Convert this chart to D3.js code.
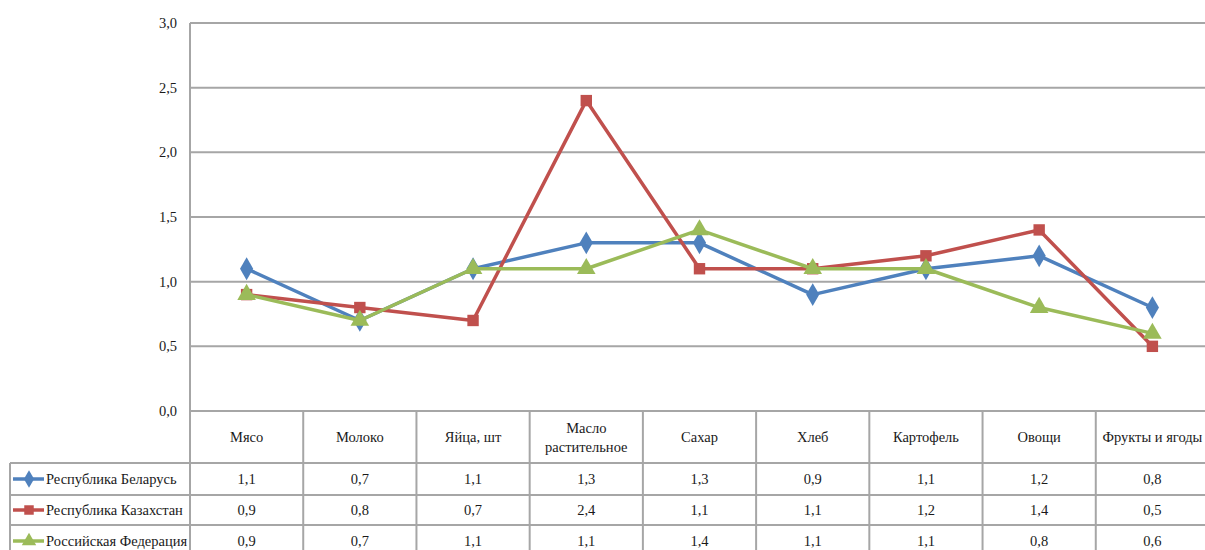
<!DOCTYPE html>
<html>
<head>
<meta charset="utf-8">
<script src="https://cdn.jsdelivr.net/npm/d3@7"></script>
<style>
body { margin: 0; background: #fff; overflow: hidden; }
</style>
</head>
<body>
<div id="chart"></div>
<script>
// categories and series
var categories = ["Мясо", "Молоко", "Яйца, шт", "Масло растительное", "Сахар", "Хлеб", "Картофель", "Овощи", "Фрукты и ягоды"];
var seriesNames = ["Республика Беларусь", "Республика Казахстан", "Российская Федерация"];
var belarus = [1.1, 0.7, 1.1, 1.3, 1.3, 0.9, 1.1, 1.2, 0.8];
var kazakhstan = [0.9, 0.8, 0.7, 2.4, 1.1, 1.1, 1.2, 1.4, 0.5];
var russia = [0.9, 0.7, 1.1, 1.1, 1.4, 1.1, 1.1, 0.8, 0.6];
var yTicks = [0, 0.5, 1.0, 1.5, 2.0, 2.5, 3.0];

var colors = ["#4f81bd", "#c0504d", "#9bbb59"];
var symbols = [d3.symbolDiamond, d3.symbolSquare, d3.symbolTriangle];
var allSeries = [belarus, kazakhstan, russia];

var width = 1205, height = 550;
var plotLeft = 190, plotRight = 1209, plotTop = 23, plotBottom = 411;
var rowTops = [411, 463, 495, 525, 557];
var tableLeft = 10;
var gridColor = "#a6a6a6";
var font = "'Liberation Serif'";
var fontSize = "14.5px";
var textColor = "#1a1a1a";

var svg = d3.select("#chart")
    .append("svg")
    .attr("width", width)
    .attr("height", height);

var x = d3.scaleBand()
    .domain(categories)
    .range([plotLeft, plotRight]);

var y = d3.scaleLinear()
    .domain([0, 3])
    .range([plotBottom, plotTop]);

var fmt = function(v) { return d3.format(".1f")(v).replace(".", ","); };

// gridlines
svg.selectAll("line.grid")
    .data(yTicks)
    .join("line")
    .attr("class", "grid")
    .attr("x1", plotLeft).attr("x2", plotRight)
    .attr("y1", function(d) { return y(d); })
    .attr("y2", function(d) { return y(d); })
    .attr("stroke", gridColor)
    .attr("stroke-width", 2);

// y labels
svg.selectAll("text.ylab")
    .data(yTicks)
    .join("text")
    .attr("class", "ylab")
    .attr("x", 177)
    .attr("y", function(d) { return y(d) + 5; })
    .attr("text-anchor", "end")
    .style("font-family", font)
    .style("font-size", fontSize)
    .style("fill", textColor)
    .text(fmt);

// vertical axis line going through the header row
svg.append("line")
    .attr("x1", plotLeft).attr("x2", plotLeft)
    .attr("y1", plotTop).attr("y2", rowTops[4])
    .attr("stroke", gridColor).attr("stroke-width", 2);

// table: vertical lines between categories
svg.selectAll("line.col")
    .data(categories)
    .join("line")
    .attr("class", "col")
    .attr("x1", function(d) { return x(d) + x.bandwidth(); })
    .attr("x2", function(d) { return x(d) + x.bandwidth(); })
    .attr("y1", plotBottom).attr("y2", rowTops[4])
    .attr("stroke", gridColor).attr("stroke-width", 2);

// legend column left border
svg.append("line")
    .attr("x1", tableLeft).attr("x2", tableLeft)
    .attr("y1", rowTops[1]).attr("y2", rowTops[4])
    .attr("stroke", gridColor).attr("stroke-width", 2);

// horizontal row lines
svg.selectAll("line.row")
    .data(rowTops.slice(1, 4))
    .join("line")
    .attr("class", "row")
    .attr("x1", tableLeft).attr("x2", plotRight)
    .attr("y1", function(d) { return d; })
    .attr("y2", function(d) { return d; })
    .attr("stroke", gridColor).attr("stroke-width", 2);

// header labels
var header = svg.selectAll("text.head")
    .data(categories)
    .join("text")
    .attr("class", "head")
    .attr("text-anchor", "middle")
    .style("font-family", font)
    .style("font-size", fontSize)
    .style("fill", textColor)
    .attr("x", function(d) { return x(d) + x.bandwidth() / 2; });

header.each(function(d) {
    var words = d === "Масло растительное" ? ["Масло", "растительное"] : [d];
    var t = d3.select(this);
    var mid = (rowTops[0] + rowTops[1]) / 2 + 5;
    words.forEach(function(w, i) {
        t.append("tspan")
            .attr("x", x(d) + x.bandwidth() / 2)
            .attr("y", mid + (i - (words.length - 1) / 2) * 19)
            .text(w);
    });
});

// lines and markers
var line = d3.line()
    .x(function(d, i) { return x(categories[i]) + x.bandwidth() / 2; })
    .y(function(d) { return y(d); });

allSeries.forEach(function(vals, s) {
    svg.append("path")
        .datum(vals)
        .attr("d", line)
        .attr("fill", "none")
        .attr("stroke", colors[s])
        .attr("stroke-width", 3.5)
        .attr("stroke-linejoin", "round");

    svg.selectAll("path.m" + s)
        .data(vals)
        .join("path")
        .attr("class", "m" + s)
        .attr("d", d3.symbol().type(symbols[s]).size(s === 1 ? 130 : 150))
        .attr("transform", function(d, i) {
            return "translate(" + (x(categories[i]) + x.bandwidth() / 2) + "," + y(d) + ")";
        })
        .attr("fill", colors[s]);

    // table row
    var rowMid = (rowTops[s + 1] + rowTops[s + 2]) / 2 + 5;
    svg.selectAll("text.v" + s)
        .data(vals)
        .join("text")
        .attr("class", "v" + s)
        .attr("text-anchor", "middle")
        .style("font-family", font)
        .style("font-size", fontSize)
        .style("fill", textColor)
        .attr("x", function(d, i) { return x(categories[i]) + x.bandwidth() / 2; })
        .attr("y", rowMid)
        .text(fmt);

    // legend key
    var keyY = rowMid - 5;
    svg.append("line")
        .attr("x1", 13).attr("x2", 44)
        .attr("y1", keyY).attr("y2", keyY)
        .attr("stroke", colors[s]).attr("stroke-width", 3.5);
    svg.append("path")
        .attr("d", d3.symbol().type(symbols[s]).size(90))
        .attr("transform", "translate(29," + keyY + ")")
        .attr("fill", colors[s]);
    svg.append("text")
        .attr("x", 46)
        .attr("y", rowMid)
        .style("font-family", font)
        .style("font-size", fontSize)
        .style("fill", textColor)
        .text(seriesNames[s]);
});
</script>
</body>
</html>
